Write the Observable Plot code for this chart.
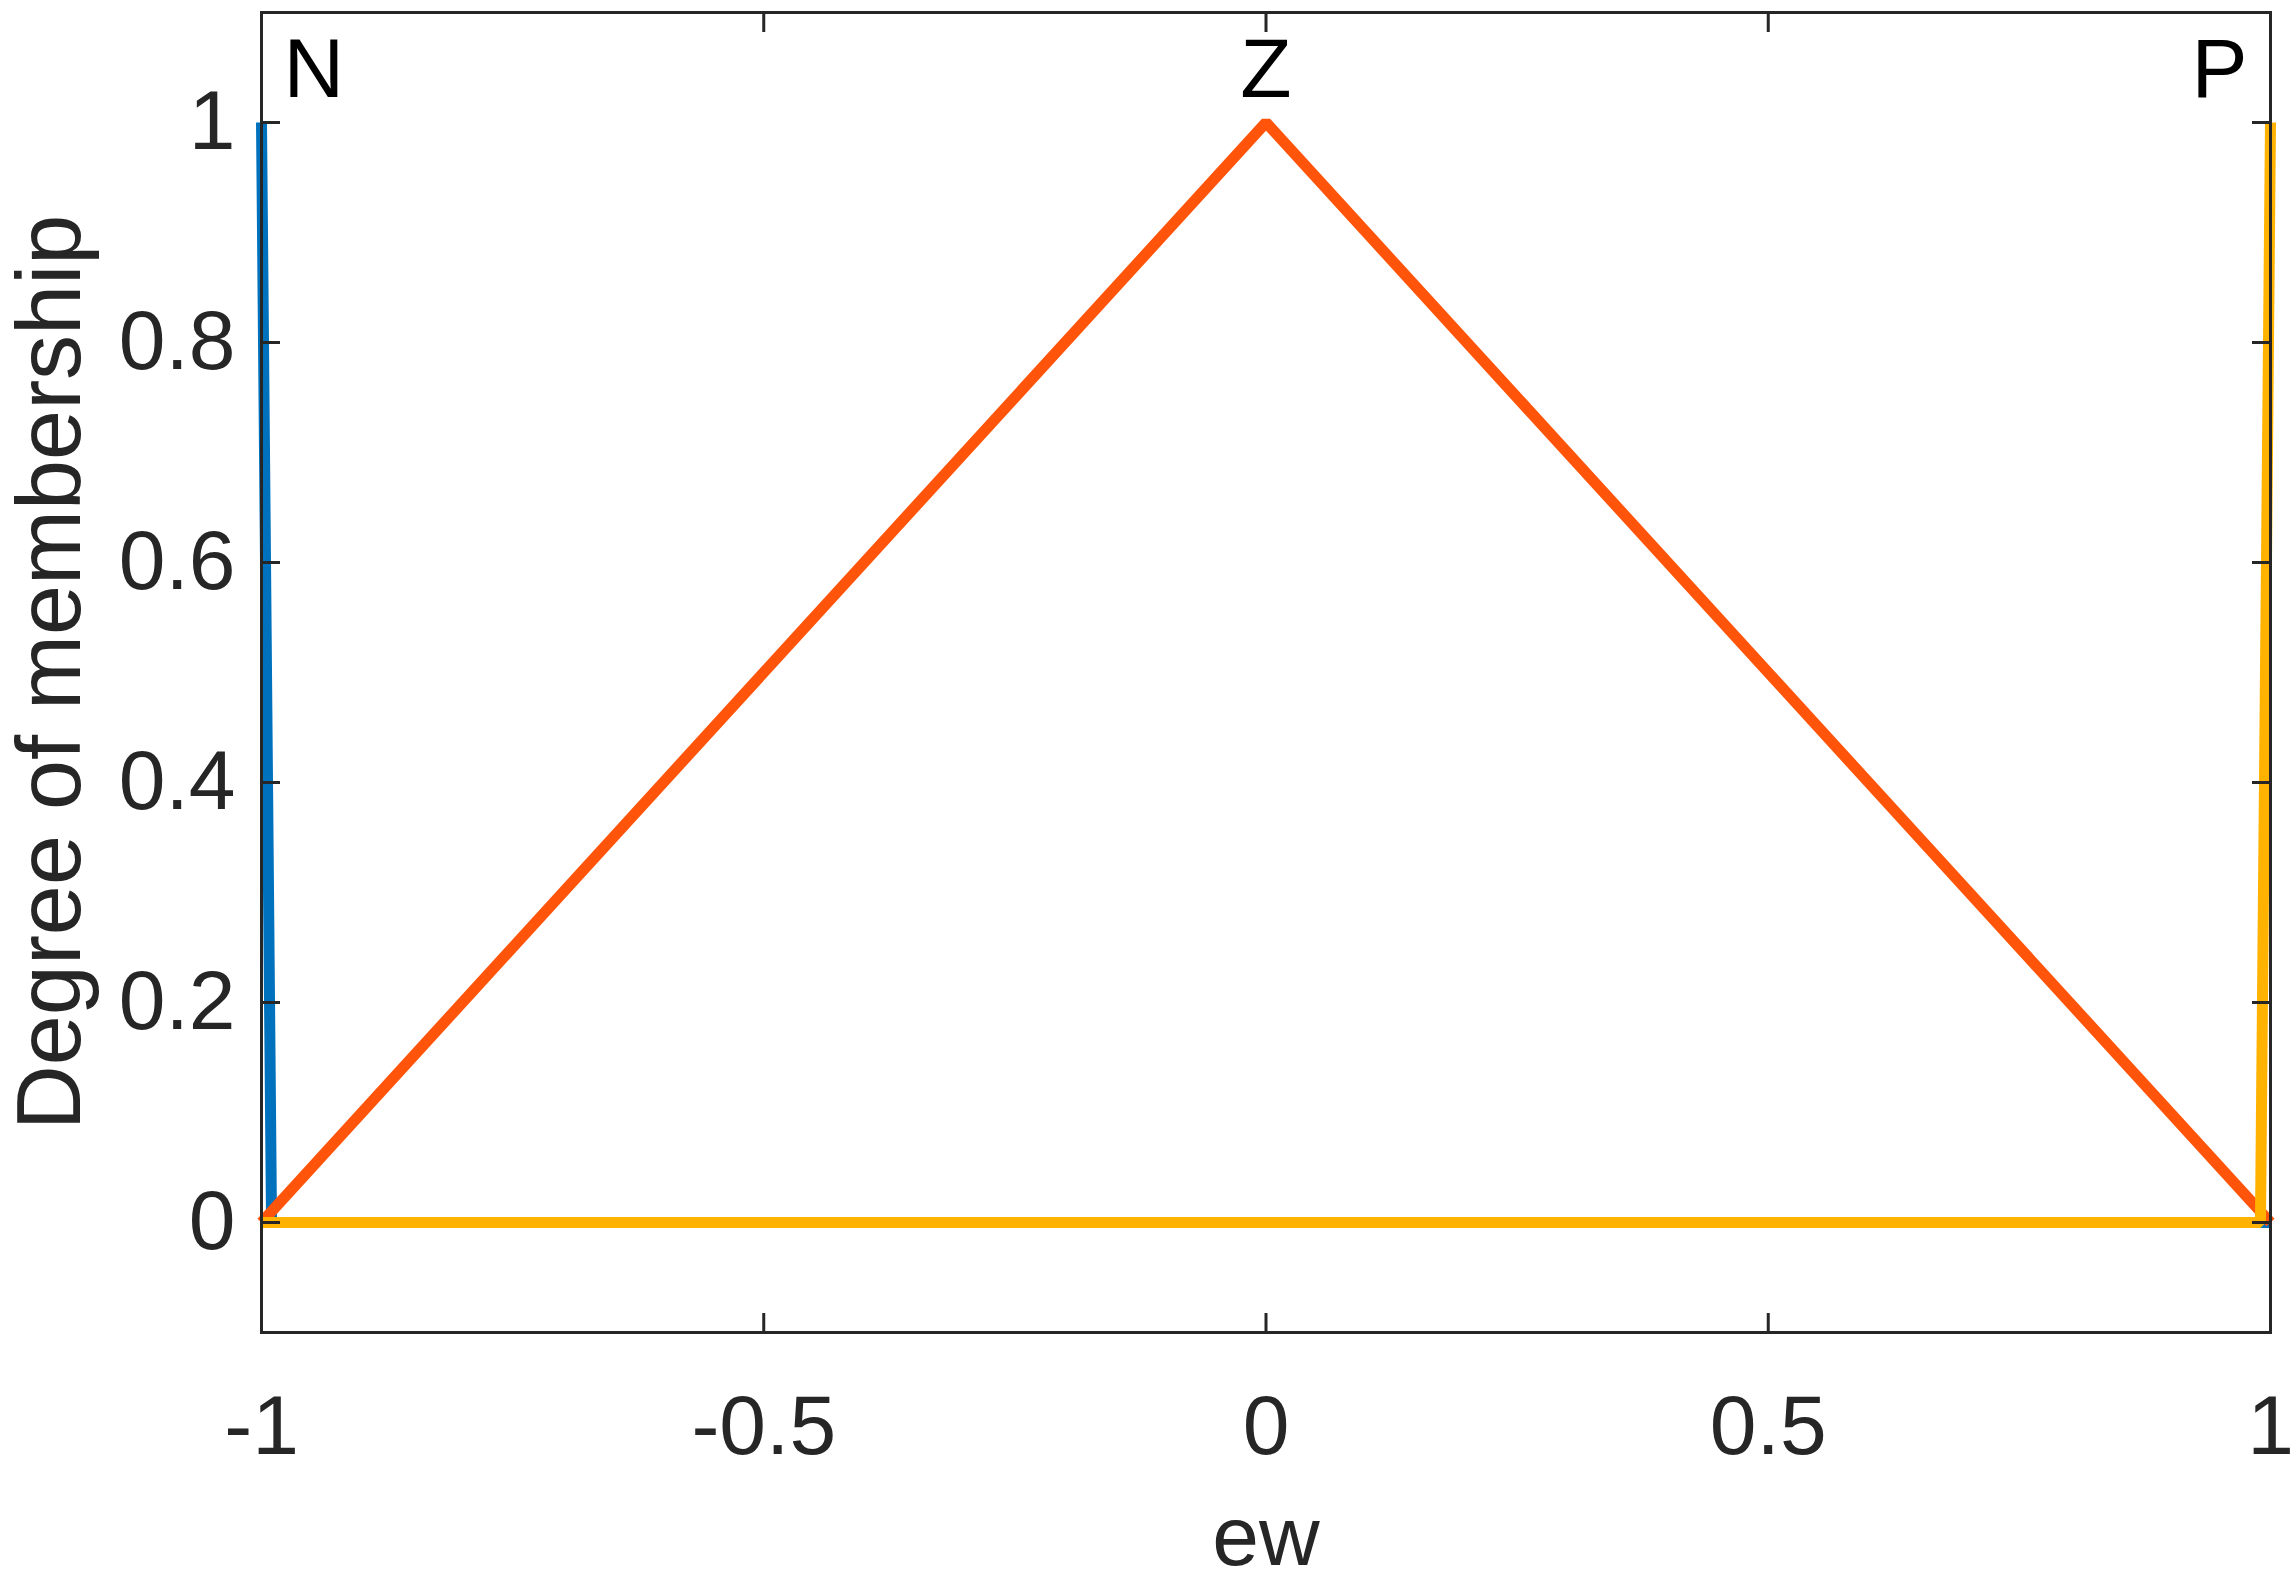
<!DOCTYPE html>
<html>
<head>
<meta charset="utf-8">
<script src="https://cdn.jsdelivr.net/npm/d3@7"></script>
<script src="https://cdn.jsdelivr.net/npm/@observablehq/plot@0.6"></script>
<style>
  html, body { margin: 0; padding: 0; background: #ffffff; }
  #chart svg { display: block; }
</style>
</head>
<body>
<div id="chart"></div>
<script>
// Membership function names and their colors
const mfNames = ["N", "Z", "P"];
const mfColors = ["#0072BD", "#FF5409", "#FFB200"];

// Membership function vertices (x = ew, y = degree of membership)
const nX = [-1, -0.99, 1];
const nY = [1, 0, 0];
const zX = [-1, 0, 1];
const zY = [0, 1, 0];
const pX = [-1, 0.99, 1];
const pY = [0, 0, 1];

// Label anchor positions for each membership function name
const labelX = [-1, 0, 1];
const labelY = [1, 1, 1];

// Axis ticks
const xTicks = [-1, -0.5, 0, 0.5, 1];
const yTicks = [0, 0.2, 0.4, 0.6, 0.8, 1];

const xLabel = "ew";
const yLabel = "Degree of membership";

const rows = [];
[[nX, nY], [zX, zY], [pX, pY]].forEach(([xs, ys], k) => {
  xs.forEach((x, i) => rows.push({x, y: ys[i], mf: mfNames[k]}));
});
const labels = mfNames.map((name, i) => ({name, x: labelX[i], y: labelY[i]}));

const W = 2296, H = 1585;
const FONT = "Liberation Sans, Arial, Helvetica, sans-serif";
const FS = 84;
const INK = "#262626";
const TICK = 19;

const fmt = d => String(d);
const nameMark = (i, anchor, dx) => Plot.text([labels[i]], {
  x: "x", y: "y", text: "name", textAnchor: anchor, dx,
  lineAnchor: "bottom", dy: -26, fontSize: FS, fill: "#000000"
});

const chart = Plot.plot({
  width: W,
  height: H,
  marginLeft: 261,
  marginRight: 26,
  marginTop: 12,
  marginBottom: 253,
  style: {fontFamily: FONT, fontSize: FS + "px", color: INK, background: "#ffffff"},
  x: {domain: [-1, 1]},
  y: {domain: [-0.1, 1.1]},
  color: {domain: mfNames, range: mfColors},
  marks: [
    Plot.line(rows, {x: "x", y: "y", z: "mf", stroke: "mf", strokeWidth: 11, strokeLinejoin: "miter", strokeLinecap: "butt"}),
    Plot.frame({stroke: INK, strokeWidth: 3}),
    // tick labels
    Plot.axisX(xTicks, {anchor: "bottom", tickSize: 0, tickPadding: 62, tickFormat: fmt, fontSize: FS, label: null, fill: INK}),
    Plot.axisY(yTicks, {anchor: "left", tickSize: 0, tickPadding: 26, tickFormat: fmt, fontSize: FS, label: null, fill: INK}),
    // inward ticks on all four sides
    Plot.axisX(xTicks, {anchor: "bottom", tickSize: -TICK, tickFormat: () => "", label: null, stroke: INK, strokeWidth: 3}),
    Plot.axisX(xTicks, {anchor: "top", tickSize: -TICK, tickFormat: () => "", label: null, stroke: INK, strokeWidth: 3}),
    Plot.axisY(yTicks, {anchor: "left", tickSize: -TICK, tickFormat: () => "", label: null, stroke: INK, strokeWidth: 3}),
    Plot.axisY(yTicks, {anchor: "right", tickSize: -TICK, tickFormat: () => "", label: null, stroke: INK, strokeWidth: 3}),
    // MF names
    nameMark(0, "start", 22),
    nameMark(1, "middle", 0),
    nameMark(2, "end", -23),
    // axis titles
    Plot.text([xLabel], {frameAnchor: "bottom", text: d => d, lineAnchor: "bottom", dy: 232, fontSize: FS, fill: INK}),
    Plot.text([yLabel], {frameAnchor: "left", text: d => d, rotate: -90, textAnchor: "middle", lineAnchor: "middle", dx: -210, fontSize: 90, fill: INK})
  ]
});

document.getElementById("chart").append(chart);
</script>
</body>
</html>
